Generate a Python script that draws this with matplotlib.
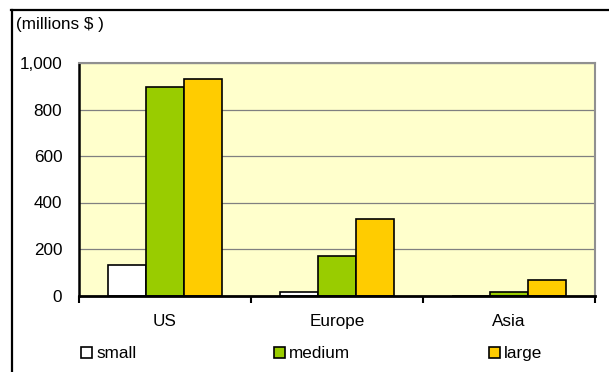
import matplotlib
matplotlib.use("Agg")
import matplotlib.pyplot as plt
from matplotlib.lines import Line2D
from matplotlib.patches import Rectangle
import numpy as np

categories = ["US", "Europe", "Asia"]
series_names = ["small", "medium", "large"]
small = [130, 15, 0]
medium = [895, 170, 15]
large = [930, 330, 65]
yticks = [0, 200, 400, 600, 800, 1000]
ytick_labels = ["0", "200", "400", "600", "800", "1,000"]
colors = ["#FFFFFF", "#99CC00", "#FFCC00"]

plt.rcParams['font.family'] = ['Liberation Sans', 'DejaVu Sans']
FS = 12.3

fig = plt.figure(figsize=(6.09, 3.72), dpi=100)
W, H = 609, 372
ax = fig.add_axes([79 / W, 1 - 295.5 / H, (595 - 79) / W, (295.5 - 63) / H])
ax.set_facecolor("#FFFFCC")

x = np.arange(len(categories))
bw = 1 / 4.5
for i, (vals, name) in enumerate(zip([small, medium, large], series_names)):
    ax.bar(x + (i - 1) * bw, vals, width=bw, color=colors[i], edgecolor="black",
           linewidth=1.2, zorder=3, label=name)

ax.set_xlim(-0.5, len(categories) - 0.5)
ax.set_ylim(0, 1000)
ax.set_yticks(yticks)
ax.set_yticklabels(ytick_labels, fontsize=FS)
ax.tick_params(axis="y", length=0, pad=12)
ax.set_xticks(x)
ax.set_xticklabels(categories, fontsize=FS)
ax.tick_params(axis="x", which="major", length=0, pad=13)
ax.set_xticks(np.arange(len(categories) + 1) - 0.5, minor=True)
ax.tick_params(axis="x", which="minor", length=5, width=1.5, direction="out", color="black")
ax.yaxis.grid(True, color="#808080", linewidth=0.9, zorder=0)
ax.set_axisbelow(True)

for s in ["top", "right"]:
    ax.spines[s].set_color("#909090")
    ax.spines[s].set_linewidth(1.5)
ax.spines["left"].set_color("black")
ax.spines["left"].set_linewidth(1.8)
ax.spines["bottom"].set_color("black")
ax.spines["bottom"].set_linewidth(2)
ax.spines["bottom"].set_zorder(5)

fig.text(16 / W, 1 - 25 / H, "(millions $ )", fontsize=FS, va="center", ha="left")

# manual legend
leg_x = [81, 274, 489]
for lx, name, c in zip(leg_x, series_names, colors):
    fig.add_artist(Rectangle((lx / W, 1 - 358 / H), 11 / W, 11 / H, facecolor=c,
                             edgecolor="black", linewidth=1.2, transform=fig.transFigure))
    fig.text((lx + 15) / W, 1 - 358 / H, name, fontsize=FS, va="baseline", ha="left")

fig.add_artist(Line2D([11 / W, 1], [1 - 9.5 / H, 1 - 9.5 / H], color="black", linewidth=1.6,
                      transform=fig.transFigure))
fig.add_artist(Line2D([11.5 / W, 11.5 / W], [0, 1 - 9.5 / H], color="black", linewidth=1.6,
                      transform=fig.transFigure))

fig.savefig("out.png", dpi=100)
